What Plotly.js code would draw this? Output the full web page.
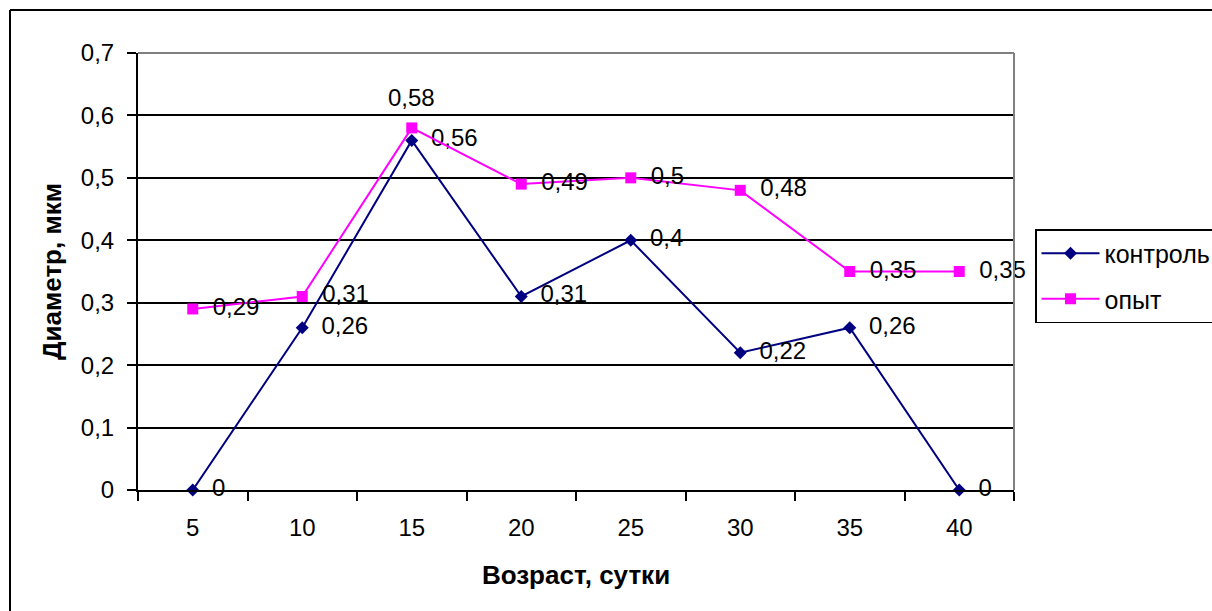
<!DOCTYPE html>
<html>
<head>
<meta charset="utf-8">
<script src="https://cdn.plot.ly/plotly-3.0.1.min.js"></script>
<style>
html,body{margin:0;padding:0;background:#fff;}
#chart{width:1212px;height:611px;}
</style>
</head>
<body>
<div id="chart"></div>
<script>
// Data
const categories = ['5', '10', '15', '20', '25', '30', '35', '40'];
const kontrol = [0, 0.26, 0.56, 0.31, 0.4, 0.22, 0.26, 0];
const opyt = [0.29, 0.31, 0.58, 0.49, 0.5, 0.48, 0.35, 0.35];
const seriesNames = ['контроль', 'опыт'];
const xTitle = 'Возраст, сутки';
const yTitle = 'Диаметр, мкм';

const fmt = v => String(v).replace('.', ',');
const FONT = 'Arial, "Liberation Sans", sans-serif';
const GAP = '\u2002';

// the peak label of "опыт" sits above its marker
const peakIdx = 2;

const traces = [
  {
    x: categories, y: kontrol, name: seriesNames[0], type: 'scatter', mode: 'lines+markers+text',
    line: {color: '#000080', width: 2},
    marker: {symbol: 'diamond', size: 10, color: '#000080'},
    text: kontrol.map(v => GAP + fmt(v)), textposition: 'middle right',
    textfont: {family: FONT, size: 24, color: '#000'},
    legendgroup: 'a', cliponaxis: false
  },
  {
    x: categories, y: opyt, name: seriesNames[1], type: 'scatter', mode: 'lines+markers+text',
    line: {color: '#FF00FF', width: 2},
    marker: {symbol: 'square', size: 11, color: '#FF00FF'},
    text: opyt.map((v, i) => i === peakIdx ? '' : GAP + fmt(v)), textposition: 'middle right',
    textfont: {family: FONT, size: 24, color: '#000'},
    legendgroup: 'b', cliponaxis: false
  }
];

const L = 138, R = 1014, T = 53, B = 490;
const pw = R - L, ph = B - T;
const px = p => (p - L) / pw;
const py = p => (B - p) / ph;

const layout = {
  width: 1212, height: 611,
  margin: {l: L, r: 1212 - R, t: T, b: 611 - B, autoexpand: false},
  paper_bgcolor: '#fff', plot_bgcolor: '#fff',
  separators: ', ',
  font: {family: FONT, size: 24, color: '#000'},
  showlegend: true,
  legend: {
    x: px(1035), y: py(229), xanchor: 'left', yanchor: 'top',
    bordercolor: '#000', borderwidth: 1.5, bgcolor: '#fff',
    font: {family: FONT, size: 25, color: '#000'},
    traceorder: 'grouped', tracegroupgap: 10, itemwidth: 58
  },
  annotations: [
    {x: peakIdx, y: opyt[peakIdx], xref: 'x', yref: 'y', text: fmt(opyt[peakIdx]),
     showarrow: false, yshift: 30, font: {family: FONT, size: 24, color: '#000'}}
  ],
  xaxis: {
    type: 'category', range: [-0.5, 7.5], fixedrange: true,
    showline: true, linecolor: '#000', linewidth: 2,
    ticks: 'outside', ticklen: 9, tickwidth: 2, tickcolor: '#000',
    tickson: 'boundaries', showgrid: false, ticklabelstandoff: 15,
    tickfont: {family: FONT, size: 24, color: '#000'},
    title: {text: xTitle, font: {family: FONT, size: 26, color: '#000', weight: 'bold'}, standoff: 26}
  },
  yaxis: {
    range: [0, 0.7], dtick: 0.1, tick0: 0, fixedrange: true,
    showline: true, linecolor: '#000', linewidth: 2,
    ticks: 'outside', ticklen: 9, tickwidth: 2, tickcolor: '#000',
    showgrid: true, gridcolor: '#000', gridwidth: 2, zeroline: false,
    ticklabelstandoff: 8,
    tickfont: {family: FONT, size: 24, color: '#000'},
    title: {text: yTitle, font: {family: FONT, size: 26, color: '#000', weight: 'bold'}, standoff: 12}
  },
  shapes: [
    {type: 'line', xref: 'paper', yref: 'paper', x0: 0, x1: 1, y0: 1, y1: 1, line: {color: '#808080', width: 2}, layer: 'above'},
    {type: 'line', xref: 'paper', yref: 'paper', x0: 1, x1: 1, y0: 0, y1: 1, line: {color: '#808080', width: 2}, layer: 'above'},
    {type: 'line', xref: 'paper', yref: 'paper', x0: px(10), x1: px(1230), y0: py(10), y1: py(10), line: {color: '#000', width: 2}},
    {type: 'line', xref: 'paper', yref: 'paper', x0: px(10), x1: px(10), y0: py(10), y1: py(640), line: {color: '#000', width: 2}}
  ]
};

Plotly.newPlot('chart', traces, layout, {displayModeBar: false, staticPlot: true});
</script>
</body>
</html>
